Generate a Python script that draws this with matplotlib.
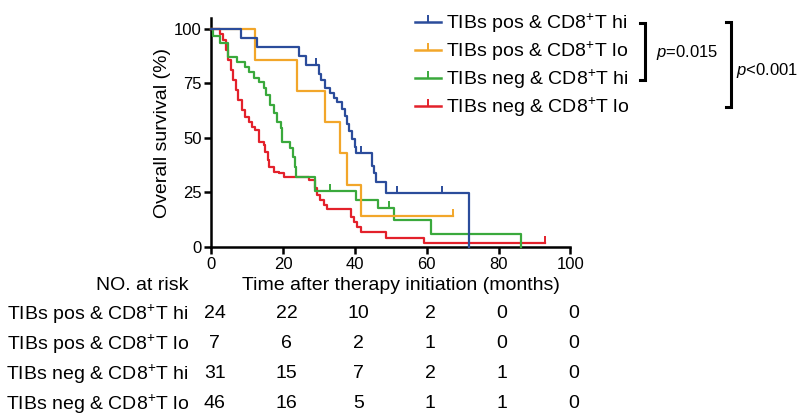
import matplotlib
matplotlib.use('Agg')
import matplotlib.pyplot as plt
from matplotlib.lines import Line2D
from matplotlib.transforms import blended_transform_factory

plt.rcParams['font.family'] = ['Liberation Sans', 'DejaVu Sans']
plt.rcParams['mathtext.fontset'] = 'custom'
plt.rcParams['mathtext.rm'] = 'Liberation Sans'
plt.rcParams['mathtext.it'] = 'Liberation Sans:italic'

# group labels and colours
groups = [r'TIBs pos & CD8$^{+}$T hi', r'TIBs pos & CD8$^{+}$T lo',
          r'TIBs neg & CD8$^{+}$T hi', r'TIBs neg & CD8$^{+}$T lo']
colors = ['#2b4c9b', '#f2a62a', '#3aa93c', '#e3212b']

# step curves (time in months, survival % after each drop)
blue_t = [0, 8.3, 12.7, 24.4, 26.3, 30.0, 30.6, 31.8, 33.2, 34.2, 35.1, 36.5, 37.2,
          37.9, 38.4, 39.3, 39.9, 40.2, 44.9, 45.3, 45.8, 48.6, 71.9]
blue_s = [100, 95.8, 91.7, 87.5, 83.3, 79.5, 76.5, 73.0, 70.5, 68.5, 66.5, 63.5, 60.0,
          56.5, 53.0, 49.5, 46.0, 43.0, 37.0, 33.8, 30.0, 24.6, 0]
blue_cens = [29.3, 41.8, 51.6, 64.2]

orange_t = [0, 12.3, 23.9, 31.8, 35.8, 37.7, 41.8, 67.2]
orange_s = [100, 85.7, 71.4, 57.1, 42.9, 28.6, 14.3, 14.3]
orange_cens = [67.2]

green_t = [0, 0.6, 2.5, 4.8, 7.2, 9.5, 10.4, 11.8, 13.2, 14.6, 15.3, 16.5, 17.4, 18.4,
           19.3, 19.7, 22.0, 22.7, 23.3, 23.6, 29.0, 40.2, 46.5, 50.9, 61.3, 86.3]
green_s = [100, 96.8, 93.5, 87.3, 85.0, 82.7, 80.4, 77.4, 75.8, 72.8, 69.7, 65.1, 61.3,
           57.5, 54.4, 48.3, 45.5, 41.4, 36.8, 32.3, 25.8, 21.6, 17.9, 12.4, 5.8, 0]
green_cens = [33.0, 49.5]

red_t = [0, 2.5, 3.4, 4.1, 4.8, 5.6, 6.2, 6.9, 7.6, 8.6, 9.5, 10.4, 11.4, 12.3, 13.2,
         14.6, 15.1, 15.8, 16.0, 17.4, 18.8, 20.2, 27.2, 29.0, 29.5, 30.4, 31.4, 32.3,
         38.8, 39.8, 40.7, 41.6, 48.6, 59.3, 92.8]
red_s = [100, 97.8, 95.0, 90.4, 85.8, 81.2, 76.6, 72.0, 67.4, 62.8, 59.8, 57.5, 55.2,
         53.7, 48.3, 46.8, 43.7, 39.9, 36.8, 34.5, 33.8, 32.3, 30.7, 26.9, 23.9, 21.6,
         19.3, 17.3, 13.9, 11.6, 9.3, 7.0, 4.0, 2.0, 2.0]
red_cens = [92.8]

risk_times = [0, 20, 40, 60, 80, 100]
risk_blue = [24, 22, 10, 2, 0, 0]
risk_orange = [7, 6, 2, 1, 0, 0]
risk_green = [31, 15, 7, 2, 1, 0]
risk_red = [46, 16, 5, 1, 1, 0]

curves = [(blue_t, blue_s, blue_cens), (orange_t, orange_s, orange_cens),
          (green_t, green_s, green_cens), (red_t, red_s, red_cens)]
risks = [risk_blue, risk_orange, risk_green, risk_red]

fig = plt.figure(figsize=(8, 4.2), dpi=100)
ax = fig.add_axes([0.264, 0.412, 0.449, 0.545])

# draw back to front so blue sits on top like the original
for (t, s, cens), c in reversed(list(zip(curves, colors))):
    ax.step(t, s, where='post', color=c, lw=1.6, clip_on=False, zorder=3)
    for ct in cens:
        # survival level at censor time
        lvl = s[0]
        for ti, si in zip(t, s):
            if ti <= ct:
                lvl = si
        ax.plot([ct], [lvl], marker=2, ms=5, mew=1.4, color=c, clip_on=False, zorder=3)

ax.set_xlim(0, 100)
ax.set_ylim(0, 105)
ax.set_xticks(risk_times)
ax.set_yticks([0, 25, 50, 75, 100])
for sp in ['top', 'right']:
    ax.spines[sp].set_visible(False)
for sp in ['left', 'bottom']:
    ax.spines[sp].set_linewidth(1.8)
ax.tick_params(direction='out', length=5, width=1.8, labelsize=12, pad=2)
ax.set_ylabel('Overall survival (%)', fontsize=14, labelpad=2)

handles = [Line2D([], [], color=c, lw=1.8, marker=2, ms=5, mew=1.4) for c in colors]
fig.legend(handles, groups, loc='upper left', bbox_to_anchor=(0.519, 0.972),
           frameon=False, fontsize=14, handlelength=1.35, handletextpad=0.25,
           labelspacing=0.24, borderpad=0, borderaxespad=0)

# p-value brackets in pixel space
ov = fig.add_axes([0, 0, 1, 1], facecolor='none')
ov.set_xlim(0, 800)
ov.set_ylim(420, 0)
ov.axis('off')
ov.plot([640, 645, 645, 640], [22.7, 22.7, 80, 80], color='black', lw=2.2,
        solid_joinstyle='miter')
ov.plot([726, 731, 731, 726], [21.7, 21.7, 106.7, 106.7], color='black', lw=2.2,
        solid_joinstyle='miter')
ov.text(656, 53, r'$p$=0.015', fontsize=12, va='center', ha='left')
ov.text(736, 71, r'$p$<0.001', fontsize=12, va='center', ha='left')

# x label and number-at-risk table
ov.text(401, 286, 'Time after therapy initiation (months)', fontsize=14,
        ha='center', va='center')
ov.text(189, 286, 'NO. at risk', fontsize=14, ha='right', va='center')
row_y = [314, 344, 374, 404]
tr = blended_transform_factory(ax.transData, fig.transFigure)
for lab, rk, yy in zip(groups, risks, row_y):
    ov.text(189, yy, lab, fontsize=14, ha='right', va='center')
    for tt, n in zip(risk_times, rk):
        fig.text(tt + 1.0, 1 - yy / 420, str(n), transform=tr, fontsize=14,
                 ha='center', va='center')

fig.savefig('out.png', dpi=100)
